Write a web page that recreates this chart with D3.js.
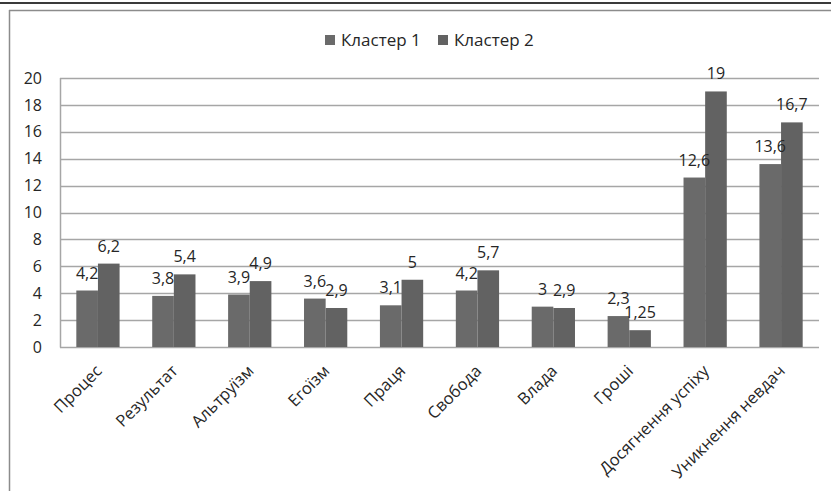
<!DOCTYPE html>
<html>
<head>
<meta charset="utf-8">
<script src="https://cdn.jsdelivr.net/npm/d3@7"></script>
<style>
  html, body { margin: 0; padding: 0; background: #fff; }
  svg { display: block; }
  text { font-family: "Open Sans", sans-serif; fill: #262626; }
</style>
</head>
<body>
<svg id="chart" width="831" height="491"></svg>
<script>
// Categories and values for the two clusters
const categories = ["Процес", "Результат", "Альтруїзм", "Егоїзм", "Праця", "Свобода", "Влада", "Гроші", "Досягнення успіху", "Уникнення невдач"];
const cluster1 = [4.2, 3.8, 3.9, 3.6, 3.1, 4.2, 3, 2.3, 12.6, 13.6];
const cluster2 = [6.2, 5.4, 4.9, 2.9, 5, 5.7, 2.9, 1.25, 19, 16.7];
const seriesNames = ["Кластер 1", "Кластер 2"];
const yTicks = [0, 2, 4, 6, 8, 10, 12, 14, 16, 18, 20];

const colors = ["#6a6a6a", "#626262"];
const svg = d3.select("#chart");

// Frame lines around the chart area
svg.append("line").attr("x1", 0).attr("x2", 831).attr("y1", 3).attr("y2", 3)
  .attr("stroke", "#3a3a3a").attr("stroke-width", 2);
svg.append("line").attr("x1", 9).attr("x2", 831).attr("y1", 10.5).attr("y2", 10.5)
  .attr("stroke", "#8c8c8c").attr("stroke-width", 1.5);
svg.append("line").attr("x1", 9.5).attr("x2", 9.5).attr("y1", 10).attr("y2", 491)
  .attr("stroke", "#8c8c8c").attr("stroke-width", 1.5);

const plot = { left: 60, right: 819, top: 78, bottom: 347 };

const x = d3.scaleBand().domain(categories)
  .range([plot.left, plot.right]).paddingInner(0.43).paddingOuter(0.215);
const xs = d3.scaleBand().domain([0, 1]).range([0, x.bandwidth()]);
const y = d3.scaleLinear().domain([0, 20]).range([plot.bottom, plot.top]);

// Horizontal gridlines
svg.append("g").selectAll("line").data(yTicks).join("line")
  .attr("x1", plot.left).attr("x2", plot.right)
  .attr("y1", d => Math.round(y(d)) + 0.5).attr("y2", d => Math.round(y(d)) + 0.5)
  .attr("stroke", "#a6a6a6").attr("stroke-width", 1.5);

// Vertical axis line
svg.append("line").attr("x1", plot.left + 0.5).attr("x2", plot.left + 0.5)
  .attr("y1", y(20)).attr("y2", y(0) + 0.5)
  .attr("stroke", "#a6a6a6").attr("stroke-width", 1.5);

// Y axis labels
const yAxis = d3.axisLeft(y).tickValues(yTicks).tickSize(0).tickPadding(18)
  .tickFormat(d3.format("d"));
const gy = svg.append("g").attr("transform", `translate(${plot.left},0)`).call(yAxis);
gy.select(".domain").remove();
gy.selectAll("text").style("font-size", "16px").attr("fill", "#262626");

// Bars
const seriesData = [cluster1, cluster2];
seriesData.forEach((vals, si) => {
  svg.append("g").selectAll("rect").data(vals).join("rect")
    .attr("x", (d, i) => x(categories[i]) + xs(si))
    .attr("width", xs.bandwidth())
    .attr("y", d => y(d))
    .attr("height", d => y(0) - y(d))
    .attr("fill", colors[si]);
});

// Value labels above the bars
const fmt = d => String(d).replace(".", ",");
seriesData.forEach((vals, si) => {
  svg.append("g").selectAll("text").data(vals).join("text")
    .attr("x", (d, i) => x(categories[i]) + xs(si) + xs.bandwidth() / 2)
    .attr("y", d => y(d) - 12)
    .attr("text-anchor", "middle")
    .style("font-size", "16px")
    .text(fmt);
});

// Category labels, rotated
const gx = svg.append("g").attr("transform", `translate(0,${plot.bottom})`)
  .call(d3.axisBottom(x).tickSize(0).tickPadding(0));
gx.select(".domain").remove();
gx.selectAll("text")
  .attr("text-anchor", "end")
  .attr("dy", 0)
  .attr("transform", "translate(5,25) rotate(-45)")
  .style("font-size", "16.5px")
  .attr("fill", "#262626");

// Legend
const legend = svg.append("g").attr("transform", "translate(325,35)");
const legendX = [0, 113];
seriesNames.forEach((name, i) => {
  const g = legend.append("g").attr("transform", `translate(${legendX[i]},0)`);
  g.append("rect").attr("width", 10).attr("height", 10).attr("fill", colors[i]);
  g.append("text").attr("x", 16).attr("y", 11).style("font-size", "17px").text(name);
});
</script>
</body>
</html>
